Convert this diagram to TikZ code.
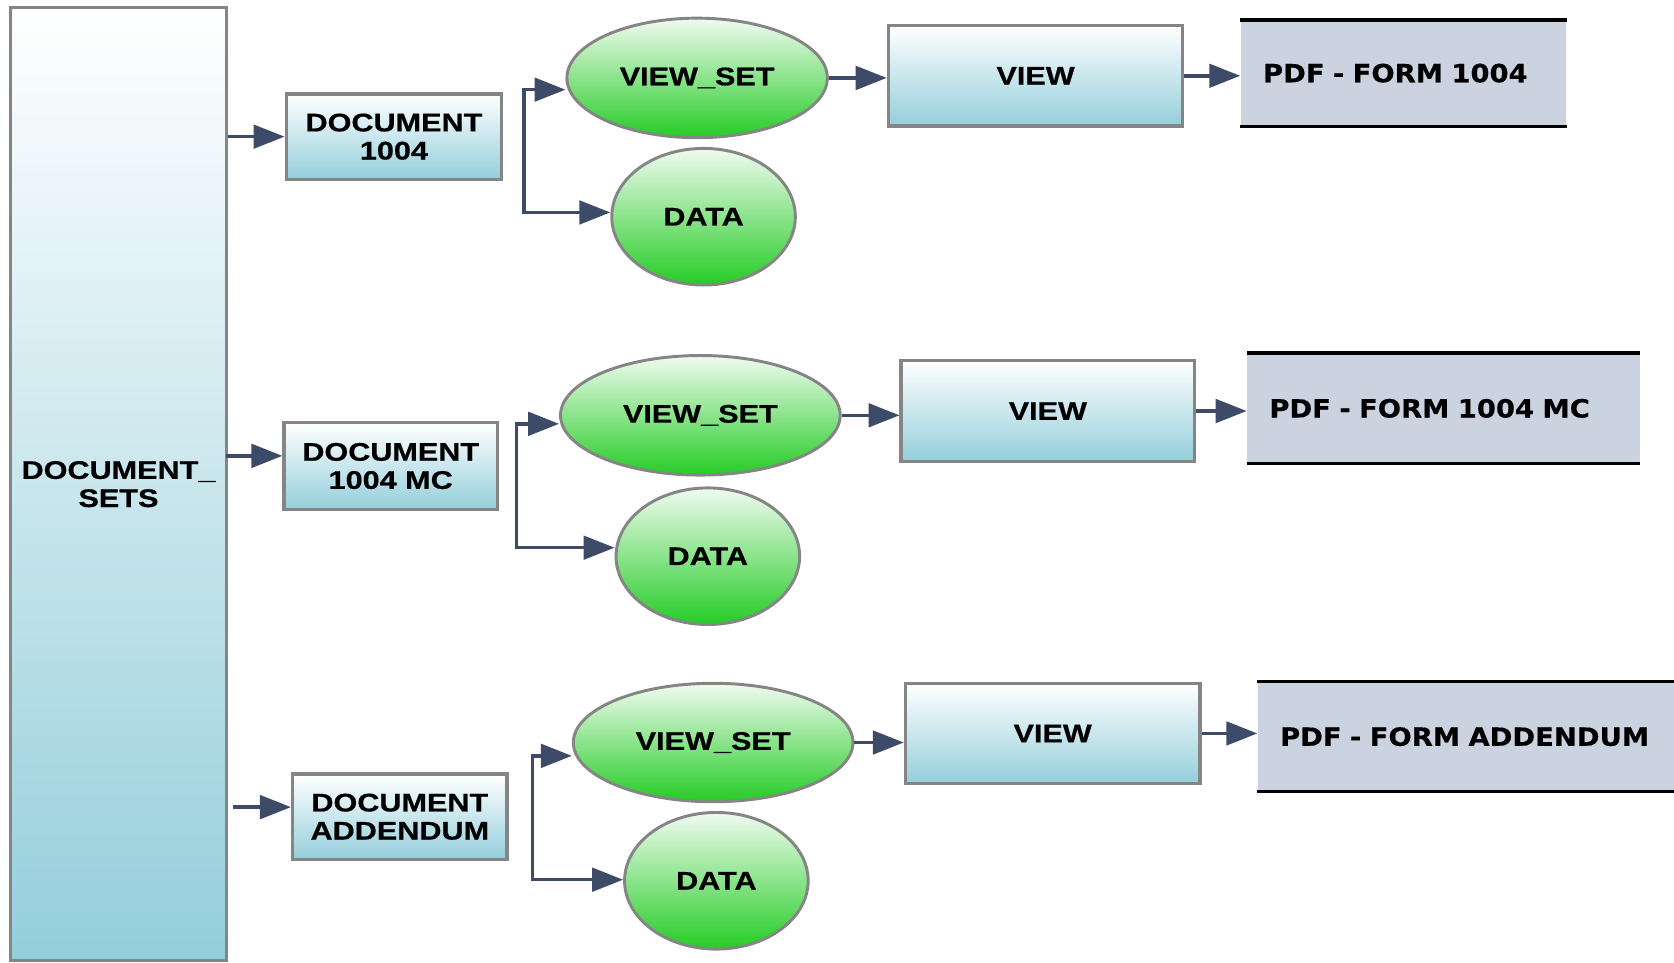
\documentclass[tikz,border=0pt]{standalone}
\usepackage{fontspec}
\newfontfamily\lblfont[FakeStretch=1.2,FakeBold=0.6]{Liberation Sans}
\newfontfamily\pdffont[FakeStretch=1.09,FakeBold=0.4]{DejaVu Sans}
\usetikzlibrary{arrows.meta,shapes.geometric}

\definecolor{edgegray}{HTML}{858585}
\definecolor{boxblue}{HTML}{94CEDB}
\definecolor{arrowblue}{HTML}{3D4B68}
\definecolor{paleleaf}{HTML}{F0FBF0}
\definecolor{leaf}{HTML}{25CC25}
\definecolor{pdfgray}{HTML}{CBD3E0}

\tikzset{
  lbl/.style={font=\lblfont\bfseries\fontsize{13.6}{15}\selectfont, text=black, align=center},
  box/.style={lbl, draw=edgegray, line width=0.06cm, top color=white, bottom color=boxblue, inner sep=0pt},
  oval/.style={lbl, ellipse, draw=edgegray, line width=0.055cm, top color=paleleaf, bottom color=leaf, inner sep=0pt},
  pdfbox/.style={font=\pdffont\bfseries\fontsize{13.4}{15}\selectfont, text=black, align=left,
    fill=pdfgray, inner xsep=0.42cm, inner ysep=0pt},
  rule/.style={line width=0.06cm, black},
  tip/.tip={Triangle[length=0.58cm,width=0.44cm]},
  arr/.style={draw=arrowblue, line width=0.065cm, -tip},
  twoarr/.style={draw=arrowblue, line width=0.065cm, tip-tip},
}

\begin{document}
\begin{tikzpicture}[x=0.02cm, y=-0.02cm]
\useasboundingbox (0,0) rectangle (1568,902);

% root column
\node[box, minimum width=4.04cm, minimum height=17.86cm] (sets) at (111,453.5) {DOCUMENT\_\\SETS};

% documents
\node[box, minimum width=4.04cm, minimum height=1.6cm]  (doc1) at (369,128)   {DOCUMENT\\1004};
\node[box, minimum width=4.0cm,  minimum height=1.62cm] (doc2) at (366,436.5) {DOCUMENT\\1004 MC};
\node[box, minimum width=4.02cm, minimum height=1.6cm]  (doc3) at (374.5,765) {DOCUMENT\\ADDENDUM};

% view sets and data
\node[oval, minimum width=4.88cm, minimum height=2.24cm] (vs1) at (653,73)    {VIEW\_SET};
\node[oval, minimum width=5.24cm, minimum height=2.24cm] (vs2) at (656,389)   {VIEW\_SET};
\node[oval, minimum width=5.24cm, minimum height=2.22cm] (vs3) at (668,695.5) {VIEW\_SET};
\node[oval, minimum width=3.44cm, minimum height=2.56cm] (d1) at (659,203) {DATA};
\node[oval, minimum width=3.44cm, minimum height=2.56cm] (d2) at (663,521) {DATA};
\node[oval, minimum width=3.44cm, minimum height=2.56cm] (d3) at (671,825) {DATA};

% views
\node[box, minimum width=5.52cm, minimum height=1.88cm] (view1) at (970,71)   {VIEW};
\node[box, minimum width=5.5cm,  minimum height=1.88cm] (view2) at (981.5,385) {VIEW};
\node[box, minimum width=5.52cm, minimum height=1.88cm] (view3) at (986,687)  {VIEW};

% pdf outputs
\node[pdfbox, text width=5.26cm, minimum height=1.98cm] (pdf1) at (1314.5,68.5) {PDF - FORM 1004};
\node[pdfbox, text width=6.52cm, minimum height=2.06cm] (pdf2) at (1352,382.5)  {PDF - FORM 1004 MC};
\node[pdfbox, text width=7.6cm,  minimum height=2.04cm] (pdf3) at (1389,690)    {PDF - FORM ADDENDUM};
\foreach \p in {pdf1,pdf2,pdf3}{
  \draw[rule] (\p.north west) -- (\p.north east);
  \draw[rule] (\p.south west) -- (\p.south east);
}

% root to documents
\draw[arr] (sets.east |- doc1.west) -- (doc1.west);
\coordinate (r2) at (212,427);
\draw[arr] (r2) -- (r2 -| doc2.west);
\coordinate (r3) at (218,756);
\draw[arr] (r3) -- (r3 -| doc3.west);

% brackets to view sets and data
\coordinate (b1) at (491,84);  \coordinate (c1) at (491,199);
\coordinate (b2) at (484,397); \coordinate (c2) at (484,513);
\coordinate (b3) at (499,708); \coordinate (c3) at (499,824);
\draw[twoarr] (b1 -| vs1.west) -- (b1) -- (c1) -- (c1 -| d1.west);
\draw[twoarr] (b2 -| vs2.west) -- (b2) -- (c2) -- (c2 -| d2.west);
\draw[twoarr] (b3 -| vs3.west) -- (b3) -- (c3) -- (c3 -| d3.west);

% view sets to views
\draw[arr] (vs1.east) -- (vs1.east -| view1.west);
\draw[arr] (vs2.east) -- (vs2.east -| view2.west);
\draw[arr] (vs3.east) -- (vs3.east -| view3.west);

% views to pdf outputs
\draw[arr] (view1.east) -- (view1.east -| pdf1.west);
\draw[arr] (view2.east) -- (view2.east -| pdf2.west);
\draw[arr] (view3.east) -- (view3.east -| pdf3.west);
\end{tikzpicture}
\end{document}
